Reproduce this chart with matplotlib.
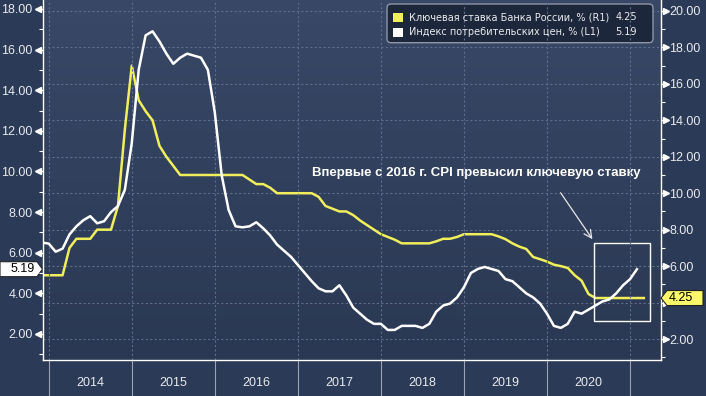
import numpy as np
import matplotlib
matplotlib.use("Agg")
import matplotlib.pyplot as plt
from matplotlib.patches import Polygon, FancyBboxPatch, Rectangle
from matplotlib.transforms import IdentityTransform, blended_transform_factory
from matplotlib.ticker import FixedLocator, NullFormatter, FixedFormatter, FormatStrFormatter, FuncFormatter
from matplotlib.colors import LinearSegmentedColormap

W, H, DPI = 706, 396, 100

# ---------------- data (monthly points, first point = end of Nov 2013) ----------------
first_point = 2013 + 11 / 12

cpi = [6.5, 6.45, 6.05, 6.2, 6.9, 7.3, 7.6, 7.8, 7.45, 7.55, 8.0, 8.3, 9.1, 11.4,
       15.0, 16.7, 16.9, 16.4, 15.8, 15.3, 15.6, 15.8, 15.7, 15.6, 15.0, 12.9,
       9.8, 8.1, 7.3, 7.25, 7.3, 7.5, 7.2, 6.85, 6.4, 6.1, 5.8, 5.4,
       5.0, 4.6, 4.25, 4.1, 4.1, 4.4, 3.9, 3.3, 3.0, 2.7, 2.5, 2.5,
       2.2, 2.2, 2.4, 2.4, 2.4, 2.3, 2.5, 3.1, 3.4, 3.5, 3.8, 4.3,
       5.0, 5.2, 5.3, 5.2, 5.1, 4.7, 4.6, 4.3, 4.0, 3.8, 3.5, 3.0,
       2.4, 2.3, 2.5, 3.1, 3.0, 3.2, 3.4, 3.6, 3.7, 4.0, 4.4, 4.7,
       5.19]

key_rate = [5.5, 5.5, 5.5, 5.5, 7.0, 7.5, 7.5, 7.5, 8.0, 8.0, 8.0, 9.3, 13.5, 17.0,
            15.1, 14.5, 14.0, 12.6, 12.0, 11.5, 11.0, 11.0, 11.0, 11.0, 11.0, 11.0,
            11.0, 11.0, 11.0, 11.0, 10.75, 10.5, 10.5, 10.3, 10.0, 10.0, 10.0, 10.0,
            10.0, 10.0, 9.8, 9.3, 9.15, 9.0, 9.0, 8.8, 8.5, 8.25, 8.0, 7.75,
            7.6, 7.45, 7.25, 7.25, 7.25, 7.25, 7.25, 7.36, 7.5, 7.5, 7.6, 7.75,
            7.75, 7.75, 7.75, 7.75, 7.63, 7.48, 7.25, 7.07, 6.94, 6.5, 6.38, 6.25,
            6.08, 6.0, 5.9, 5.5, 5.2, 4.47, 4.25, 4.25, 4.25, 4.25, 4.25, 4.25,
            4.25, 4.25]

year_labels = [2014, 2015, 2016, 2017, 2018, 2019, 2020]
year_bounds = [2014, 2015, 2016, 2017, 2018, 2019, 2020, 2021]
left_ticks = [2, 4, 6, 8, 10, 12, 14, 16, 18]
right_ticks = [2, 4, 6, 8, 10, 12, 14, 16, 18, 20]
right_hidden = [4]  # covered by the last-value tag in the original

key_name = "Ключевая ставка Банка России, % (R1)"
cpi_name = "Индекс потребительских цен, % (L1)"
note_text = "Впервые с 2016 г. CPI превысил ключевую ставку"

t_cpi = first_point + np.arange(len(cpi)) / 12
t_key = first_point + np.arange(len(key_rate)) / 12

# ---------------- style ----------------
BG = "#2b3a56"
YEL = "#f0ee5a"
WHITE = "#ffffff"
GRID = "#5d6d8b"
TXT = "#e8eaee"
FONT = "Liberation Sans"

fig = plt.figure(figsize=(W / DPI, H / DPI), dpi=DPI, facecolor=BG)
L, R, T, B = 43, 661, 0, 360
rect = [L / W, 1 - B / H, (R - L) / W, (B - T) / H]

# gradient background of the plot area
bgax = fig.add_axes(rect, zorder=-1)
grad = np.linspace(0, 1, 256).reshape(-1, 1)
cmap = LinearSegmentedColormap.from_list("bg", ["#2a3853", "#384866"])
bgax.imshow(grad, extent=[0, 1, 0, 1], aspect="auto", cmap=cmap, origin="lower")
bgax.axis("off")

ax = fig.add_axes(rect)
ax2 = ax.twinx()
ax.set_zorder(ax2.get_zorder() + 1)
ax.patch.set_visible(False)
ax2.patch.set_visible(False)

ax.set_xlim(2013.931, 2021.373)
ax.set_ylim(0.72, 18.44)
ax2.set_ylim(0.85, 20.6)

# lines
ax2.plot(t_key, key_rate, color=YEL, lw=1.8, solid_joinstyle="round", zorder=3)
ax.plot(t_cpi, cpi, color=WHITE, lw=1.8, solid_joinstyle="round", zorder=4)

# spines
for s in ["top", "right"]:
    ax.spines[s].set_visible(False)
for s in ["top", "left", "bottom"]:
    ax2.spines[s].set_visible(False)
for sp in [ax.spines["left"], ax.spines["bottom"], ax2.spines["right"]]:
    sp.set_color(WHITE)
    sp.set_linewidth(1.0)

# x axis: year boundaries as long gray ticks, labels centered
ax.xaxis.set_major_locator(FixedLocator(year_bounds))
ax.xaxis.set_major_formatter(NullFormatter())
ax.xaxis.set_minor_locator(FixedLocator([y + 0.5 for y in year_labels]))
ax.xaxis.set_minor_formatter(FixedFormatter([str(y) for y in year_labels]))
ax.tick_params(axis="x", which="major", direction="out", length=26, width=0.8, color="#9aa3b5")
ax.tick_params(axis="x", which="minor", length=0, pad=12, labelsize=9, labelcolor=TXT)
for lab in ax.get_xticklabels(minor=True):
    lab.set_fontfamily(FONT)
ax.xaxis.grid(True, which="major", ls=(0, (2, 2)), color=GRID, lw=0.8)

# left y axis
ax.yaxis.set_major_locator(FixedLocator(left_ticks))
ax.yaxis.set_minor_locator(FixedLocator([v - 1 for v in left_ticks] + [left_ticks[-1] + 1]))
ax.yaxis.set_major_formatter(FormatStrFormatter("%.2f"))
ax.tick_params(axis="y", which="major", direction="out", length=4, width=1.0, color=WHITE,
               pad=3.5, labelsize=9, labelcolor=TXT)
ax.tick_params(axis="y", which="minor", direction="out", length=3, width=0.8, color=WHITE)
for lab in ax.get_yticklabels():
    lab.set_fontfamily(FONT)

# right y axis
ax2.yaxis.set_major_locator(FixedLocator(right_ticks))
ax2.yaxis.set_minor_locator(FixedLocator([v - 1 for v in right_ticks]))
ax2.yaxis.set_major_formatter(FuncFormatter(lambda v, p: "" if round(v) in right_hidden else f"{v:.2f}"))
ax2.tick_params(axis="y", which="major", direction="out", length=4, width=1.0, color=WHITE,
                pad=2, labelsize=9, labelcolor=TXT)
ax2.tick_params(axis="y", which="minor", direction="out", length=3, width=0.8, color=WHITE)
for lab in ax2.get_yticklabels():
    lab.set_fontfamily(FONT)
ax2.yaxis.grid(True, which="major", ls=(0, (2, 2)), color=GRID, lw=0.8)

# triangle wedges at major ticks
trl = blended_transform_factory(ax.transAxes, ax.transData)
ax.plot([-5 / (R - L)] * len(left_ticks), left_ticks, ls="none", marker="<", ms=4,
        color=WHITE, transform=trl, clip_on=False)
trr = blended_transform_factory(ax2.transAxes, ax2.transData)
ax2.plot([1 + 5 / (R - L)] * len(right_ticks), right_ticks, ls="none", marker=">", ms=4,
         color=WHITE, transform=trr, clip_on=False)

# annotation: text, arrow, highlight rectangle (right-axis data coordinates)
ax2.text(2017.167, 11.1, note_text, color=WHITE, fontsize=9.5, fontweight="bold",
         fontfamily=FONT, ha="left", va="center", zorder=6)
ax2.annotate("", xy=(2020.566, 7.35), xytext=(2020.145, 10.15),
             arrowprops=dict(arrowstyle="->", color="#e8e8e8", lw=0.9, mutation_scale=14))
ax2.add_patch(Rectangle((2020.566, 3.0), 2021.236 - 2020.566, 7.26 - 3.0,
                        fill=False, edgecolor=WHITE, lw=1.0, zorder=6))

# ---------------- legend (figure pixel coords) ----------------
ID = IdentityTransform()
def py(y):
    return H - y

fig.add_artist(FancyBboxPatch((387, py(42.7)), 653 - 387, 42.7 - 4,
                              boxstyle="round,pad=0,rounding_size=4",
                              facecolor="#1d273b", edgecolor="#8d96a8", lw=1.0, transform=ID))
fig.add_artist(Rectangle((393, py(21.7)), 9.5, 9, facecolor=YEL, edgecolor="none", transform=ID))
fig.add_artist(Rectangle((393, py(36.7)), 9.5, 9, facecolor=WHITE, edgecolor="none", transform=ID))
fig.text(409, py(17.2), key_name, transform=ID, fontsize=7, color=TXT, va="center", ha="left",
         fontfamily="DejaVu Sans")
fig.text(409, py(32.2), cpi_name, transform=ID, fontsize=7, color=TXT, va="center", ha="left",
         fontfamily="DejaVu Sans")
fig.text(637, py(17.2), f"{key_rate[-1]:.2f}", transform=ID, fontsize=7, color=TXT,
         va="center", ha="right", fontfamily="DejaVu Sans")
fig.text(637, py(32.2), f"{cpi[-1]:.2f}", transform=ID, fontsize=7, color=TXT,
         va="center", ha="right", fontfamily="DejaVu Sans")

# ---------------- last-value tags ----------------
cy = ax.transData.transform((2016, cpi[-1]))[1]
fig.add_artist(Polygon([(0, cy - 7.5), (37, cy - 7.5), (42.5, cy), (37, cy + 7.5), (0, cy + 7.5)],
                       closed=True, facecolor=WHITE, edgecolor="#222222", lw=0.8, transform=ID))
fig.text(34.5, cy, f"{cpi[-1]:.2f}", transform=ID, fontsize=9, color="black", ha="right",
         va="center", fontfamily=FONT)

cy2 = ax2.transData.transform((2016, key_rate[-1]))[1]
fig.add_artist(Polygon([(661, cy2), (667, cy2 - 7.5), (703, cy2 - 7.5), (703, cy2 + 7.5), (667, cy2 + 7.5)],
                       closed=True, facecolor="#fbf86a", edgecolor="#222222", lw=0.8, transform=ID))
fig.text(668.5, cy2, f"{key_rate[-1]:.2f}", transform=ID, fontsize=9, color="black", ha="left",
         va="center", fontfamily=FONT)

fig.savefig("out.png", dpi=DPI, facecolor=BG)
